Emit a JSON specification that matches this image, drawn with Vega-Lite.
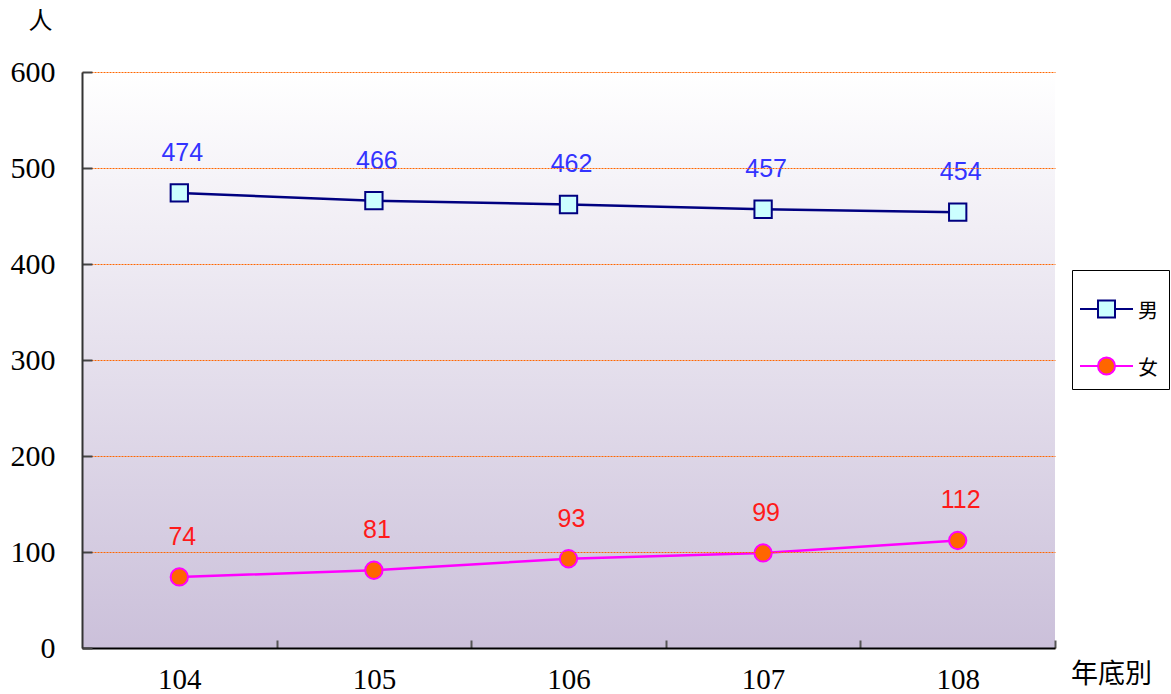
{
  "$schema": "https://vega.github.io/schema/vega-lite/v6.json",
  "width": 973,
  "height": 576,
  "autosize": {"type": "none"},
  "padding": {"left": 82, "top": 72, "right": 116, "bottom": 46},
  "background": "white",
  "config": {"view": {"stroke": null}},
  "data": {
    "values": [
      {"year": 104, "series": "男", "value": 474},
      {"year": 105, "series": "男", "value": 466},
      {"year": 106, "series": "男", "value": 462},
      {"year": 107, "series": "男", "value": 457},
      {"year": 108, "series": "男", "value": 454},
      {"year": 104, "series": "女", "value": 74},
      {"year": 105, "series": "女", "value": 81},
      {"year": 106, "series": "女", "value": 93},
      {"year": 107, "series": "女", "value": 99},
      {"year": 108, "series": "女", "value": 112}
    ]
  },
  "encoding": {
    "x": {
      "field": "year", "type": "quantitative",
      "scale": {"domain": [103.5, 108.5], "nice": false, "zero": false},
      "axis": {
        "values": [104, 105, 106, 107, 108],
        "format": "d",
        "grid": false,
        "zindex": 1,
        "domainColor": "#000000", "domainWidth": 2,
        "tickSize": -8, "tickColor": "#555555", "tickWidth": 2, "tickOffset": 97.3,
        "labelOffset": -97.3,
        "labelFont": "Liberation Serif", "labelFontSize": 29, "labelColor": "#000000",
        "labelPadding": 25, "labelFlush": false, "labelOverlap": false,
        "title": "年底別", "titleFont": "Noto Sans CJK TC", "titleFontSize": 27,
        "titleFontWeight": "normal", "titleColor": "#000000",
        "titleX": 1029, "titleY": 26, "titleAlign": "center", "titleBaseline": "middle", "titleAngle": 0
      }
    },
    "y": {
      "field": "value", "type": "quantitative",
      "scale": {"domain": [0, 600], "nice": false},
      "axis": {
        "values": [0, 100, 200, 300, 400, 500, 600],
        "grid": true, "gridColor": "#ff6600", "gridDash": [2, 1], "gridWidth": 1,
        "zindex": 1,
        "domainColor": "#333333", "domainWidth": 2,
        "tickSize": -10, "tickColor": "#444444", "tickWidth": 2,
        "labelFont": "Liberation Serif", "labelFontSize": 30, "labelColor": "#000000",
        "labelPadding": 37, "labelFlush": false,
        "title": "人", "titleFont": "Noto Sans CJK TC", "titleFontSize": 24,
        "titleFontWeight": "normal", "titleColor": "#000000",
        "titleX": -42, "titleY": -51, "titleAlign": "center", "titleBaseline": "middle", "titleAngle": 0
      }
    }
  },
  "layer": [
    {
      "data": {"values": [{}]},
      "mark": {
        "type": "rect",
        "color": {
          "gradient": "linear", "x1": 0, "y1": 0, "x2": 0, "y2": 1,
          "stops": [{"offset": 0, "color": "#ffffff"}, {"offset": 1, "color": "#cbc0da"}]
        }
      },
      "encoding": {"x": null, "y": null}
    },
    {
      "mark": {"type": "line", "strokeWidth": 2.5},
      "encoding": {
        "color": {"field": "series", "type": "nominal",
          "scale": {"domain": ["男", "女"], "range": ["#000080", "#ff00ff"]}, "legend": null}
      }
    },
    {
      "mark": {"type": "point", "filled": true, "opacity": 1, "size": 300, "strokeWidth": 2},
      "encoding": {
        "shape": {"field": "series", "type": "nominal",
          "scale": {"domain": ["男", "女"], "range": ["square", "circle"]}, "legend": null},
        "fill": {"field": "series", "type": "nominal",
          "scale": {"domain": ["男", "女"], "range": ["#ccffff", "#ff6600"]}, "legend": null},
        "stroke": {"field": "series", "type": "nominal",
          "scale": {"domain": ["男", "女"], "range": ["#000080", "#ff00ff"]}, "legend": null}
      }
    },
    {
      "mark": {"type": "text", "dy": -40, "dx": 3, "font": "Liberation Sans", "fontSize": 25},
      "encoding": {
        "text": {"field": "value", "type": "quantitative"},
        "color": {"field": "series", "type": "nominal",
          "scale": {"domain": ["男", "女"], "range": ["#3333ff", "#ff1a1a"]}, "legend": null}
      }
    },
    {
      "transform": [{"filter": "false"}],
      "mark": {"type": "point", "filled": true, "opacity": 1, "size": 1600, "strokeWidth": 2},
      "encoding": {
        "shape": {"field": "series", "type": "nominal",
          "scale": {"domain": ["男", "女"], "range": [
            "M-1.325,0.375H-0.425M0.425,0.375H1.325M-0.425,-0.05H0.425V0.8H-0.425Z",
            "M-1.325,0.375H-0.425M0.425,0.375H1.325M-0.425,0.375A0.425,0.425,0,1,1,0.425,0.375A0.425,0.425,0,1,1,-0.425,0.375Z"
          ]},
          "legend": {
            "title": null, "orient": "none", "legendX": 990, "legendY": 198,
            "padding": 10.5, "strokeColor": "#000000", "fillColor": "#ffffff",
            "symbolSize": 1600, "symbolStrokeWidth": 2, "symbolOffset": 3,
            "rowPadding": 16, "labelOffset": 10.5,
            "labelFont": "Noto Sans CJK TC", "labelFontSize": 20, "labelColor": "#000000",
            "labelBaseline": "top"
          }
        },
        "fill": {"field": "series", "type": "nominal",
          "scale": {"domain": ["男", "女"], "range": ["#ccffff", "#ff6600"]}},
        "stroke": {"field": "series", "type": "nominal",
          "scale": {"domain": ["男", "女"], "range": ["#000080", "#ff00ff"]}}
      }
    }
  ],
  "resolve": {
    "scale": {"color": "independent", "fill": "independent", "stroke": "independent", "shape": "independent"}
  }
}
